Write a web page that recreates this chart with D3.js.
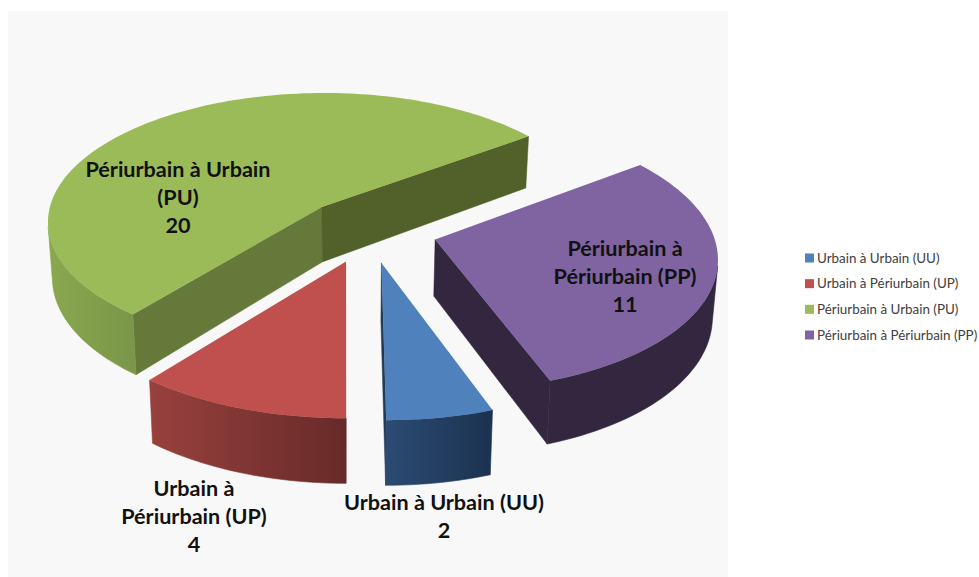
<!DOCTYPE html>
<html>
<head>
<meta charset="utf-8">
<script src="https://cdn.jsdelivr.net/npm/d3@7"></script>
<style>
  html, body { margin: 0; padding: 0; background: #fff; }
  svg { display: block; }
</style>
</head>
<body>
<div id="chart"></div>
<script>
// Chart values
var categories = ['Urbain à Urbain (UU)', 'Urbain à Périurbain (UP)', 'Périurbain à Urbain (PU)', 'Périurbain à Périurbain (PP)'];
var values = [2, 4, 20, 11];
var labelLines = [['Urbain à Urbain (UU)'], ['Urbain à', 'Périurbain (UP)'], ['Périurbain à Urbain', '(PU)'], ['Périurbain à', 'Périurbain (PP)']];

// Colours
var topColors = ['#4f81bd', '#c0504d', '#9bbb59', '#8064a2'];
var sideColors = ['#213a59', '#7a2f2d', '#64793a', '#33273f'];
var backSideColors = ['#213a59', '#7a2f2d', '#526029', '#33273f'];
var wallLeftColors = ['#2b4b73', '#98413e', '#8aa850', '#33273f'];
var wallRightColors = ['#1b3250', '#672a28', '#7a9648', '#33273f'];

// Label anchors on the page
var labelX = [444, 194, 178, 625];
var labelY = [510, 496, 177, 256];
var lineGap = 28;

var svgWidth = 979;
var svgHeight = 577;

var svg = d3.select('#chart')
    .append('svg')
    .attr('width', svgWidth)
    .attr('height', svgHeight);

var defs = svg.append('defs');

// Chart area
svg.append('rect')
    .attr('x', 8)
    .attr('y', 11)
    .attr('width', 720)
    .attr('height', 566)
    .attr('fill', '#f8f8f8');

// Projection of the pie plane, with perspective
var vanishX = 345;
var vanishY = -943;
var planeH = 1150;
var radius = 272;
var persp = 0.11;
var thickness = 55;
var explode = 0.247;
var centerU = 0.086;
var centerV = 0.178;

function project(u, v) {
    var w = 1 - persp * v;
    return [vanishX + u * radius / w, vanishY + planeH / w];
}

// Point on the bottom face, under a point of the top face
function dropDown(p) {
    var w = planeH / (p[1] - vanishY);
    return [vanishX + (p[0] - vanishX) * 0.985, p[1] + thickness / w];
}

// Angles clockwise from the back of the pie, UU and UP meet at the front
var firstAngle = Math.PI - values[0] / d3.sum(values) * 2 * Math.PI;
var pie = d3.pie()
    .sort(null)
    .startAngle(firstAngle)
    .endAngle(firstAngle + 2 * Math.PI);
var arcs = pie(values);

var line = d3.line();

function closed(points) {
    return line(points) + 'Z';
}

function facesViewer(a, b) {
    return d3.polygonArea([a, b, dropDown(b), dropDown(a)]) > 0;
}

// Build the geometry of every slice
var slices = arcs.map(function (d, i) {
    var mid = (d.startAngle + d.endAngle) / 2;
    var apexU = centerU + explode * Math.sin(mid);
    var apexV = centerV - explode * Math.cos(mid);
    var apex = project(apexU, apexV);

    var steps = Math.ceil((d.endAngle - d.startAngle) / (Math.PI / 120));
    var rim = d3.range(steps + 1).map(function (s) {
        var a = d.startAngle + (d.endAngle - d.startAngle) * s / steps;
        return project(apexU + Math.sin(a), apexV - Math.cos(a));
    });

    return { index: i, apex: apex, rim: rim };
});

// Far slices first
var drawOrder = [2, 3, 1, 0];
var chartGroup = svg.append('g');

drawOrder.forEach(function (i) {
    var s = slices[i];
    var g = chartGroup.append('g').attr('class', 'slice');

    // Straight walls
    var first = s.rim[0];
    var last = s.rim[s.rim.length - 1];
    if (facesViewer(s.apex, first)) {
        g.append('path')
            .attr('d', closed([s.apex, first, dropDown(first), dropDown(s.apex)]))
            .attr('fill', sideColors[i])
            .attr('stroke', sideColors[i])
            .attr('stroke-width', 0.5);
    }
    if (facesViewer(last, s.apex)) {
        g.append('path')
            .attr('d', closed([last, s.apex, dropDown(s.apex), dropDown(last)]))
            .attr('fill', backSideColors[i])
            .attr('stroke', backSideColors[i])
            .attr('stroke-width', 0.5);
    }

    // Curved wall, only the part turned to the viewer
    var shown = [];
    s.rim.forEach(function (p, k) {
        if (k > 0 && facesViewer(s.rim[k - 1], p)) {
            if (!shown.length) shown.push(s.rim[k - 1]);
            shown.push(p);
        }
    });
    if (shown.length) {
        var gradId = 'wall' + i;
        var grad = defs.append('linearGradient')
            .attr('id', gradId)
            .attr('gradientUnits', 'userSpaceOnUse')
            .attr('x1', d3.min(shown, p => p[0]))
            .attr('x2', d3.max(shown, p => p[0]))
            .attr('y1', 0)
            .attr('y2', 0);
        grad.append('stop').attr('offset', 0).attr('stop-color', wallLeftColors[i]);
        grad.append('stop').attr('offset', 1).attr('stop-color', wallRightColors[i]);

        var bottom = shown.map(dropDown).reverse();
        g.append('path')
            .attr('d', closed(shown.concat(bottom)))
            .attr('fill', 'url(#' + gradId + ')')
            .attr('stroke', 'url(#' + gradId + ')')
            .attr('stroke-width', 0.6);
    }

    // Top face
    g.append('path')
        .attr('d', closed([s.apex].concat(s.rim)))
        .attr('fill', topColors[i]);
});

// Data labels
categories.forEach(function (c, i) {
    var text = svg.append('text')
        .attr('text-anchor', 'middle')
        .attr('font-family', 'Lato, sans-serif')
        .attr('font-weight', 700)
        .attr('font-size', 21.6)
        .attr('fill', '#111');
    labelLines[i].concat([values[i]]).forEach(function (t, k) {
        text.append('tspan')
            .attr('x', labelX[i])
            .attr('y', labelY[i] + k * lineGap)
            .text(t);
    });
});

// Legend
var legendY = d3.scalePoint()
    .domain(categories)
    .range([258, 335]);

var legend = svg.append('g')
    .selectAll('g')
    .data(categories)
    .enter()
    .append('g')
    .attr('transform', d => `translate(805, ${legendY(d)})`);

legend.append('rect')
    .attr('x', 0)
    .attr('y', -4.5)
    .attr('width', 9)
    .attr('height', 9)
    .attr('fill', (d, i) => topColors[i]);

legend.append('text')
    .attr('x', 12)
    .attr('y', 4.5)
    .attr('font-family', 'Lato, sans-serif')
    .attr('font-size', 13.4)
    .attr('fill', '#404040')
    .text(d => d);
</script>
</body>
</html>
